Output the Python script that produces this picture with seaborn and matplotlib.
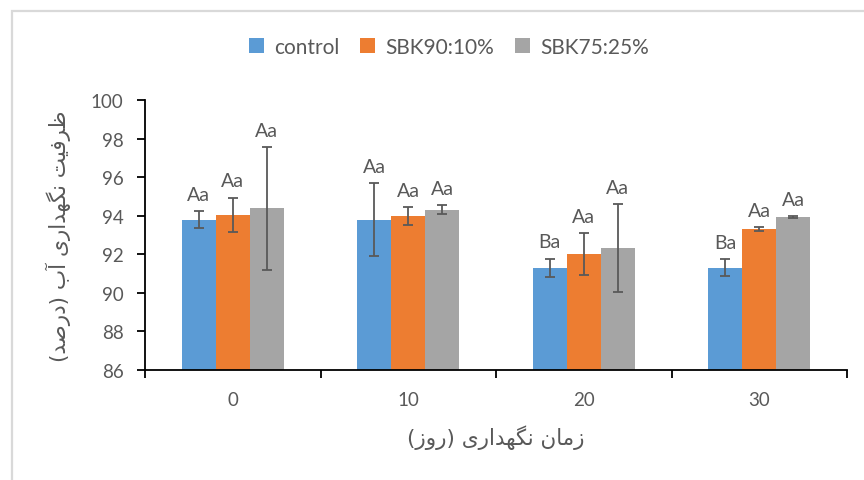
import matplotlib
matplotlib.use("Agg")
import matplotlib.pyplot as plt
from matplotlib.patches import Rectangle
from matplotlib.ticker import FixedLocator, NullFormatter
import numpy as np
import pandas as pd
import seaborn as sns

# ---- data -------------------------------------------------------------
days = ["0", "10", "20", "30"]
treatments = ["control", "SBK90:10%", "SBK75:25%"]
control_vals = [93.8, 93.8, 91.3, 91.3]
sbk90_vals = [94.05, 93.97, 92.0, 93.31]
sbk75_vals = [94.38, 94.31, 92.32, 93.92]
control_err = [0.43, 1.9, 0.47, 0.45]
sbk90_err = [0.89, 0.47, 1.1, 0.11]
sbk75_err = [3.18, 0.24, 2.27, 0.06]
control_letters = ["Aa", "Aa", "Ba", "Ba"]
sbk90_letters = ["Aa", "Aa", "Aa", "Aa"]
sbk75_letters = ["Aa", "Aa", "Aa", "Aa"]
y_label = "ظرفیت نگهداری آب (درصد)"
x_label = "زمان نگهداری (روز)"

colors = ["#5B9BD5", "#ED7D31", "#A5A5A5"]
text_gray = "#595959"

# ---- minimal Persian shaping (presentation forms, visual order) -------
FORMS = {
    "ا": ("\uFE8D", "\uFE8E", None, None),
    "آ": ("\uFE81", "\uFE82", None, None),
    "ب": ("\uFE8F", "\uFE90", "\uFE91", "\uFE92"),
    "ت": ("\uFE95", "\uFE96", "\uFE97", "\uFE98"),
    "د": ("\uFEA9", "\uFEAA", None, None),
    "ر": ("\uFEAD", "\uFEAE", None, None),
    "ز": ("\uFEAF", "\uFEB0", None, None),
    "ص": ("\uFEB9", "\uFEBA", "\uFEBB", "\uFEBC"),
    "ظ": ("\uFEC5", "\uFEC6", "\uFEC7", "\uFEC8"),
    "ف": ("\uFED1", "\uFED2", "\uFED3", "\uFED4"),
    "م": ("\uFEE1", "\uFEE2", "\uFEE3", "\uFEE4"),
    "ن": ("\uFEE5", "\uFEE6", "\uFEE7", "\uFEE8"),
    "ه": ("\uFEE9", "\uFEEA", "\uFEEB", "\uFEEC"),
    "و": ("\uFEED", "\uFEEE", None, None),
    "ی": ("\uFEEF", "\uFEF0", "\uFEF3", "\uFEF4"),
    "گ": ("\uFB92", "\uFB93", "\uFB94", "\uFB95"),
}
DUAL = set("بتصظفمنهیگ")
RIGHT = set("اآدرزو")


def shape_fa(text):
    out = []
    for i, ch in enumerate(text):
        if ch not in FORMS:
            out.append(ch)
            continue
        prev = text[i - 1] if i > 0 else ""
        nxt = text[i + 1] if i + 1 < len(text) else ""
        join_prev = prev in DUAL
        join_next = ch in DUAL and (nxt in DUAL or nxt in RIGHT)
        iso, fin, ini, med = FORMS[ch]
        if join_prev and join_next:
            out.append(med)
        elif join_prev:
            out.append(fin)
        elif join_next:
            out.append(ini)
        else:
            out.append(iso)
    vis = "".join(reversed(out))
    return vis.translate(str.maketrans("()", ")("))


# ---- figure -----------------------------------------------------------
sns.set_style("white")
plt.rcParams["font.family"] = ["Lato", "DejaVu Sans"]

fig = plt.figure(figsize=(8.64, 4.81), dpi=100)
ax = fig.add_axes([145 / 864, 1 - 371 / 481, (847 - 145) / 864, (371 - 101) / 481])

df = pd.DataFrame({
    "day": days * 3,
    "treatment": np.repeat(treatments, len(days)),
    "value": control_vals + sbk90_vals + sbk75_vals,
})

sns.barplot(data=df, x="day", y="value", hue="treatment", order=days,
            hue_order=treatments, palette=colors, width=0.58, gap=0,
            errorbar=None, linewidth=0, saturation=1, ax=ax)

errs = [control_err, sbk90_err, sbk75_err]
letters = [control_letters, sbk90_letters, sbk75_letters]
for cont, err, labs in zip(ax.containers, errs, letters):
    xs = [b.get_x() + b.get_width() / 2 for b in cont]
    hs = [b.get_height() for b in cont]
    ax.errorbar(xs, hs, yerr=err, fmt="none", ecolor=text_gray,
                elinewidth=1.3, capsize=3.8, capthick=1.3, zorder=3)
    for x, h, e, lab in zip(xs, hs, err, labs):
        ax.annotate(lab, (x, h + e), xytext=(0, 6), textcoords="offset points",
                    ha="center", va="bottom", fontsize=14, color=text_gray)

ax.set_ylim(86, 100)
ax.set_xlim(-0.5, len(days) - 0.5)
ax.set_yticks(np.arange(86, 101, 2))

# category boundaries carry the tick marks, labels sit at the centres
ax.xaxis.set_minor_locator(FixedLocator(np.arange(-0.5, len(days), 1.0)))
ax.xaxis.set_minor_formatter(NullFormatter())
ax.tick_params(axis="x", which="major", length=0, pad=15,
               labelsize=13.5, labelcolor=text_gray)
ax.tick_params(axis="x", which="minor", length=5.5, width=1.3,
               direction="out", color="black", bottom=True)
ax.tick_params(axis="y", which="major", length=5.5, width=1.3,
               direction="out", color="black", left=True, pad=10,
               labelsize=13.5, labelcolor=text_gray)

for side in ["top", "right"]:
    ax.spines[side].set_visible(False)
for side in ["left", "bottom"]:
    ax.spines[side].set_color("black")
    ax.spines[side].set_linewidth(1.3)

ax.set_xlabel(shape_fa(x_label), fontsize=15.5, color=text_gray,
              family=["DejaVu Sans"], labelpad=12)
ax.set_ylabel(shape_fa(y_label), fontsize=15.5, color=text_gray,
              family=["DejaVu Sans"], labelpad=14)

sns.move_legend(ax, "center", bbox_to_anchor=(449 / 864, 1 - 48 / 481),
                bbox_transform=fig.transFigure, ncol=3, frameon=False,
                title=None, fontsize=15, handlelength=0.7,
                handleheight=0.7, handletextpad=0.5, columnspacing=1.0)
for t in ax.get_legend().get_texts():
    t.set_color(text_gray)

# chart area border
fig.patches.append(Rectangle((11.5 / 864, -0.1), 1.2, (481 - 11.5) / 481 + 0.1,
                             transform=fig.transFigure, fill=False,
                             edgecolor="#D9D9D9", linewidth=1.6))

fig.savefig("out.png", dpi=100)
